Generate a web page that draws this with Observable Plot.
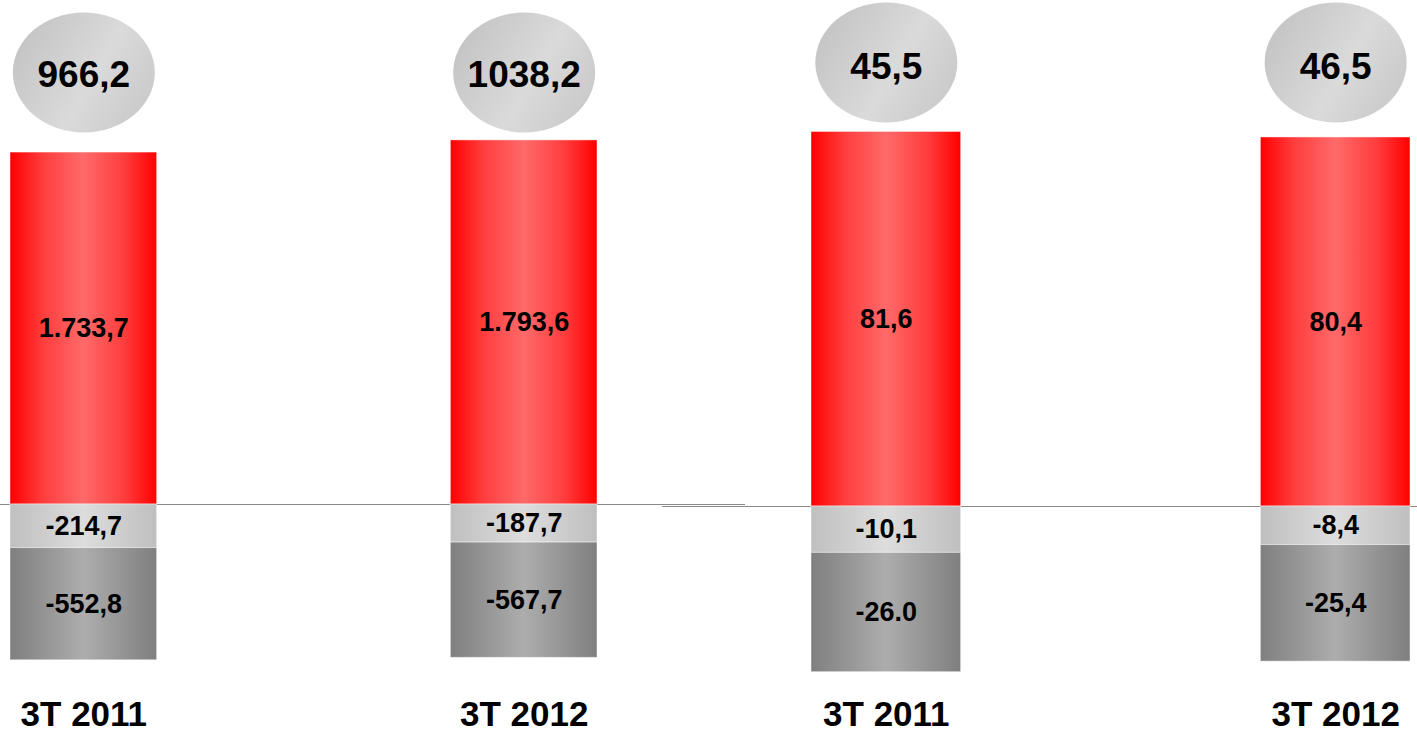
<!DOCTYPE html>
<html>
<head>
<meta charset="utf-8">
<script src="https://cdn.jsdelivr.net/npm/d3@7"></script>
<script src="https://cdn.jsdelivr.net/npm/@observablehq/plot@0.6"></script>
<style>
  body { margin: 0; background: #ffffff; }
  #wrap { position: relative; width: 1417px; height: 735px; overflow: hidden; }
  #wrap > svg.plot { position: absolute; left: 0; top: 0; }
</style>
</head>
<body>
<svg width="0" height="0" style="position:absolute">
  <defs>
    <linearGradient id="gRed" x1="0" y1="0" x2="1" y2="0">
      <stop offset="0" stop-color="#ff0000"/>
      <stop offset="0.22" stop-color="#ff3c3c"/>
      <stop offset="0.5" stop-color="#ff6a6a"/>
      <stop offset="0.78" stop-color="#ff3c3c"/>
      <stop offset="1" stop-color="#ff0000"/>
    </linearGradient>
    <linearGradient id="gLight" x1="0" y1="0" x2="1" y2="0">
      <stop offset="0" stop-color="#bfbfbf"/>
      <stop offset="0.5" stop-color="#dddddd"/>
      <stop offset="1" stop-color="#bfbfbf"/>
    </linearGradient>
    <linearGradient id="gDark" x1="0" y1="0" x2="1" y2="0">
      <stop offset="0" stop-color="#7f7f7f"/>
      <stop offset="0.5" stop-color="#adadad"/>
      <stop offset="1" stop-color="#7f7f7f"/>
    </linearGradient>
    <linearGradient id="gEll" x1="0" y1="0.3" x2="1" y2="0.8">
      <stop offset="0" stop-color="#c4c4c4"/>
      <stop offset="0.55" stop-color="#dadada"/>
      <stop offset="1" stop-color="#c8c8c8"/>
    </linearGradient>
  </defs>
</svg>
<div id="wrap"></div>
<script>
// ---- data ----
const periods = ["3T 2011", "3T 2012"];
const segments = ["positivo", "negativo1", "negativo2"];

// panel A (left)
const aPositive = [1733.7, 1793.6];
const aNegative1 = [-214.7, -187.7];
const aNegative2 = [-552.8, -567.7];
const aTotals = [966.2, 1038.2];
const aPositiveLabels = ["1.733,7", "1.793,6"];
const aNegative1Labels = ["-214,7", "-187,7"];
const aNegative2Labels = ["-552,8", "-567,7"];
const aTotalLabels = ["966,2", "1038,2"];

// panel B (right)
const bPositive = [81.6, 80.4];
const bNegative1 = [-10.1, -8.4];
const bNegative2 = [-26.0, -25.4];
const bTotals = [45.5, 46.5];
const bPositiveLabels = ["81,6", "80,4"];
const bNegative1Labels = ["-10,1", "-8,4"];
const bNegative2Labels = ["-26.0", "-25,4"];
const bTotalLabels = ["45,5", "46,5"];

function buildRows(series, labels) {
  const rows = [];
  periods.forEach((p, i) => {
    segments.forEach((s, j) => {
      rows.push({period: p, segment: s, value: series[j][i], label: labels[j][i]});
    });
  });
  return rows;
}
function buildTotals(totals, labels) {
  return periods.map((p, i) => ({period: p, value: totals[i], label: labels[i]}));
}

// ellipse symbol for the total badges
const ellipse = {
  draw(ctx) {
    const rx = 71, ry = 60, k = 0.5523;
    ctx.moveTo(rx, 0);
    ctx.bezierCurveTo(rx, ry * k, rx * k, ry, 0, ry);
    ctx.bezierCurveTo(-rx * k, ry, -rx, ry * k, -rx, 0);
    ctx.bezierCurveTo(-rx, -ry * k, -rx * k, -ry, 0, -ry);
    ctx.bezierCurveTo(rx * k, -ry, rx, -ry * k, rx, 0);
    ctx.closePath();
  }
};

const font = "'Liberation Sans', Arial, Helvetica, sans-serif";

function panel(opts) {
  const {rows, totals, xRange, yDomain, yRange, marginLeft, marginRight, ellipseDy, totalDy} = opts;
  const svg = Plot.plot({
    width: 1417,
    height: 735,
    marginTop: 0,
    marginBottom: 0,
    marginLeft,
    marginRight,
    x: {domain: periods, range: xRange, paddingInner: 0.667, paddingOuter: 0, round: false, axis: null},
    y: {domain: yDomain, range: yRange, axis: null},
    color: {domain: segments, range: ["url(#gRed)", "url(#gLight)", "url(#gDark)"]},
    style: {fontFamily: font, background: "transparent", overflow: "visible"},
    marks: [
      Plot.ruleY([0], {stroke: "#8a8a8a", strokeWidth: 1}),
      Plot.barY(rows, Plot.stackY({x: "period", y: "value", fill: "segment", stroke: "#ffffff", strokeOpacity: 0.45, strokeWidth: 1})),
      Plot.text(rows, Plot.stackY({x: "period", y: "value", text: "label", fontSize: 27, fontWeight: "bold", fill: "#000000", lineAnchor: "middle"})),
      Plot.dot(totals, {x: "period", frameAnchor: "top", dy: ellipseDy, symbol: ellipse, r: 60, fill: "url(#gEll)", stroke: "none"}),
      Plot.text(totals, {x: "period", text: "label", frameAnchor: "top", lineAnchor: "middle", dy: totalDy, fontSize: 37, fontWeight: "bold", fill: "#000000"}),
      Plot.text(periods, {x: d => d, text: d => d, frameAnchor: "bottom", lineAnchor: "middle", dy: -21, fontSize: 35, fontWeight: "bold", fill: "#000000"})
    ]
  });
  svg.classList.add("plot");
  return svg;
}

const kA = 0.203;
const kB = 4.59;
const wrap = document.getElementById("wrap");
wrap.appendChild(panel({
  rows: buildRows([aPositive, aNegative1, aNegative2], [aPositiveLabels, aNegative1Labels, aNegative2Labels]),
  totals: buildTotals(aTotals, aTotalLabels),
  xRange: [10, 597],
  yDomain: [-800, 1800],
  yRange: [504 + 800 * kA, 504 - 1800 * kA],
  marginLeft: 0,
  marginRight: 672,
  ellipseDy: 72,
  totalDy: 75
}));
wrap.appendChild(panel({
  rows: buildRows([bPositive, bNegative1, bNegative2], [bPositiveLabels, bNegative1Labels, bNegative2Labels]),
  totals: buildTotals(bTotals, bTotalLabels),
  xRange: [811, 1410],
  yDomain: [-40, 90],
  yRange: [506 + 40 * kB, 506 - 90 * kB],
  marginLeft: 662,
  marginRight: 0,
  ellipseDy: 62,
  totalDy: 67
}));
</script>
</body>
</html>
